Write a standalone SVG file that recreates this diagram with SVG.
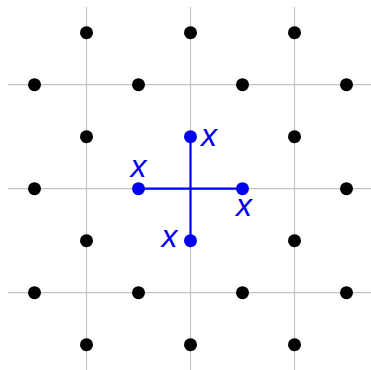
<svg xmlns="http://www.w3.org/2000/svg" width="371" height="370" viewBox="0 0 371 370">
<style>
.grid{stroke:#c4c4c4;stroke-width:1.2;fill:none}
.dot{fill:#000}
.bdot{fill:#0000f0}
.edge{stroke:#0000f0;stroke-width:2.2;fill:none}
.lbl{font-family:"Liberation Sans",Arial,sans-serif;font-style:italic;font-size:32px;fill:#0000f0;text-anchor:middle}
</style>
<rect width="371" height="370" fill="#fff"/>
<g id="grid">
<line class="grid" x1="86.5" y1="7" x2="86.5" y2="370"/>
<line class="grid" x1="190.5" y1="7" x2="190.5" y2="370"/>
<line class="grid" x1="294.5" y1="7" x2="294.5" y2="370"/>
<line class="grid" x1="8" y1="84.7" x2="371" y2="84.7"/>
<line class="grid" x1="8" y1="188.7" x2="371" y2="188.7"/>
<line class="grid" x1="8" y1="292.7" x2="371" y2="292.7"/>
</g>
<g id="connectors">
<line class="edge" x1="190.5" y1="136.7" x2="190.5" y2="240.7"/>
<line class="edge" x1="138.5" y1="188.7" x2="242.5" y2="188.7"/>
</g>
<g id="lattice">
<circle class="dot" cx="86.5" cy="32.7" r="6.5"/>
<circle class="dot" cx="190.5" cy="32.7" r="6.5"/>
<circle class="dot" cx="294.5" cy="32.7" r="6.5"/>
<circle class="dot" cx="34.5" cy="84.7" r="6.5"/>
<circle class="dot" cx="138.5" cy="84.7" r="6.5"/>
<circle class="dot" cx="242.5" cy="84.7" r="6.5"/>
<circle class="dot" cx="346.5" cy="84.7" r="6.5"/>
<circle class="dot" cx="86.5" cy="136.7" r="6.5"/>
<circle class="dot" cx="294.5" cy="136.7" r="6.5"/>
<circle class="dot" cx="34.5" cy="188.7" r="6.5"/>
<circle class="dot" cx="346.5" cy="188.7" r="6.5"/>
<circle class="dot" cx="86.5" cy="240.7" r="6.5"/>
<circle class="dot" cx="294.5" cy="240.7" r="6.5"/>
<circle class="dot" cx="34.5" cy="292.7" r="6.5"/>
<circle class="dot" cx="138.5" cy="292.7" r="6.5"/>
<circle class="dot" cx="242.5" cy="292.7" r="6.5"/>
<circle class="dot" cx="346.5" cy="292.7" r="6.5"/>
<circle class="dot" cx="86.5" cy="344.7" r="6.5"/>
<circle class="dot" cx="190.5" cy="344.7" r="6.5"/>
<circle class="dot" cx="294.5" cy="344.7" r="6.5"/>
</g>
<g id="node-top">
<circle class="bdot" cx="190.5" cy="136.7" r="6.5"/>
<text class="lbl" x="209" y="146">x</text>
</g>
<g id="node-left">
<circle class="bdot" cx="138.5" cy="188.7" r="6.5"/>
<text class="lbl" x="138.5" y="177">x</text>
</g>
<g id="node-right">
<circle class="bdot" cx="242.5" cy="188.7" r="6.5"/>
<text class="lbl" x="244" y="216">x</text>
</g>
<g id="node-bottom">
<circle class="bdot" cx="190.5" cy="240.7" r="6.5"/>
<text class="lbl" x="169.5" y="247">x</text>
</g>
</svg>
